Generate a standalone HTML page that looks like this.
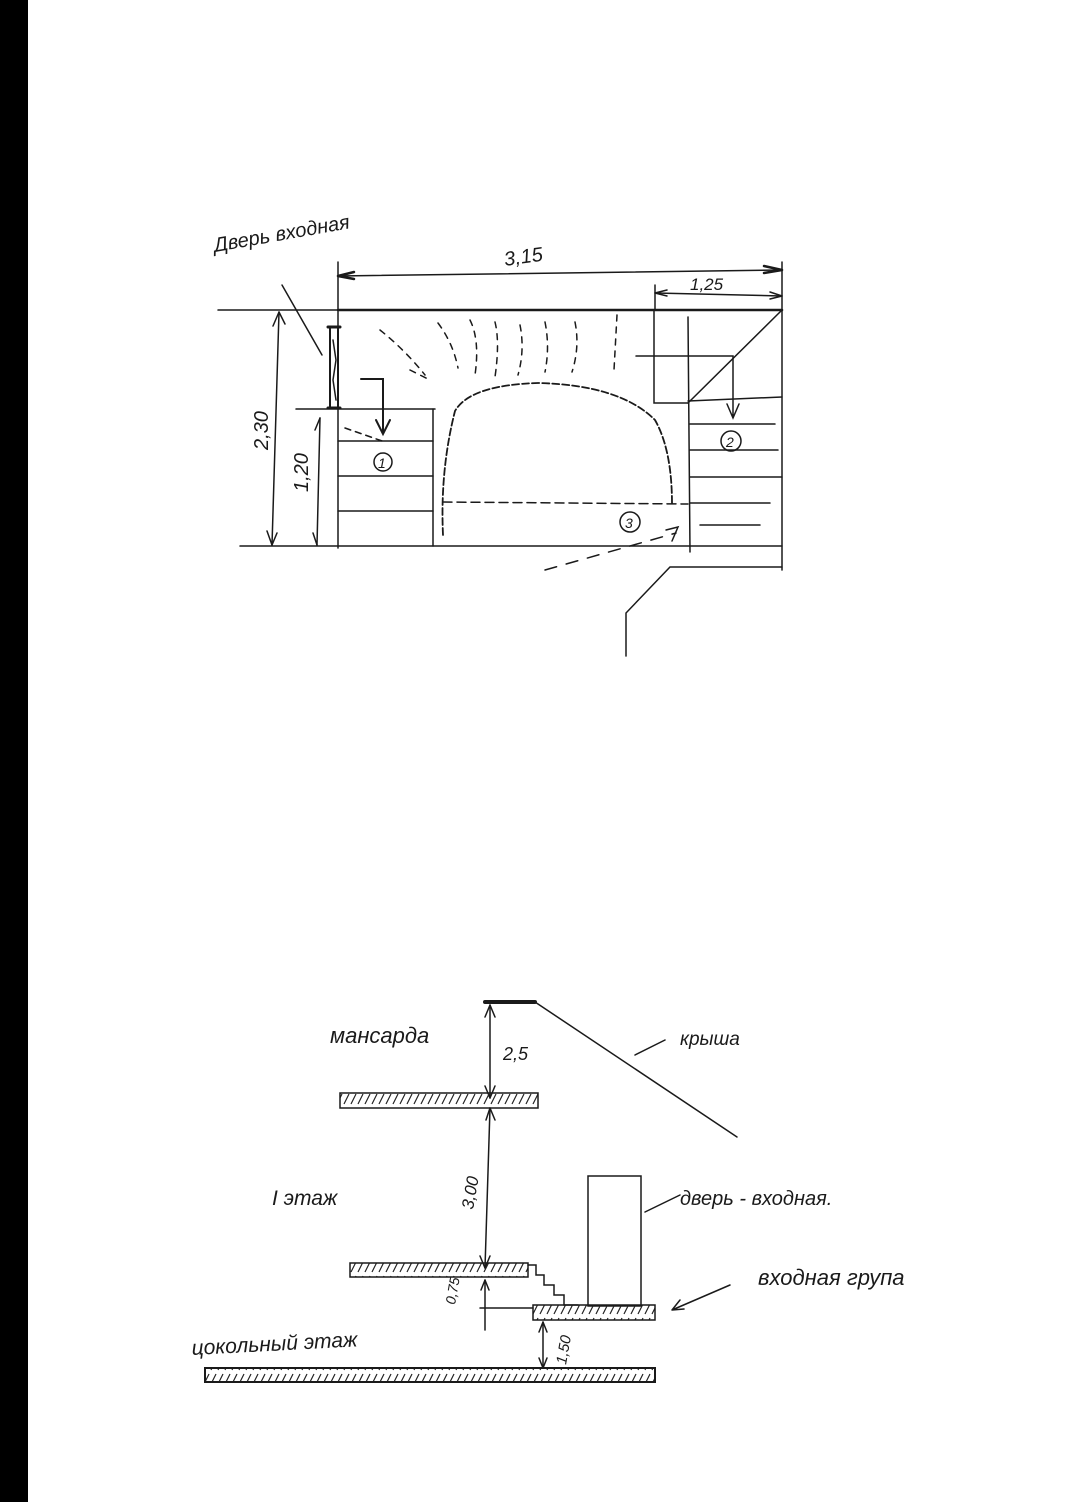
<!DOCTYPE html>
<html><head><meta charset="utf-8"><style>
html,body{margin:0;padding:0;background:#fff}
svg{display:block}
text{font-family:"Liberation Sans","DejaVu Sans",sans-serif;font-style:italic;fill:#1a1a1a}
</style></head><body>
<svg width="1080" height="1502" viewBox="0 0 1080 1502" xmlns="http://www.w3.org/2000/svg">
<defs>
<pattern id="h" width="7" height="14" patternUnits="userSpaceOnUse"><path d="M1 12 L6 2" stroke="#222" stroke-width="1.2"/></pattern>
</defs>
<rect x="0" y="0" width="28" height="1502" fill="#000"/>
<g stroke="#1a1a1a" stroke-width="1.5" fill="none" stroke-linecap="round">
<!-- top plan -->
<line x1="218" y1="310" x2="338" y2="310"/>
<line x1="338" y1="310" x2="782" y2="310" stroke-width="2.5"/>
<line x1="240" y1="546" x2="782" y2="546"/>
<line x1="338" y1="262" x2="338" y2="548"/>
<line x1="782" y1="262" x2="782" y2="570"/>
<line x1="338" y1="276" x2="782" y2="270"/>
<path d="M338 276 l16 -4 M338 276 l16 3 M782 270 l-18 -4 M782 270 l-18 3" stroke-width="2.5"/>
<line x1="655" y1="293" x2="782" y2="296"/>
<path d="M655 293 l12 -3 M655 293 l12 3 M782 296 l-12 -4 M782 296 l-12 3"/>
<line x1="655" y1="285" x2="655" y2="310"/>
<line x1="279" y1="312" x2="272" y2="545"/>
<path d="M279 312 l-6 14 M279 312 l6 12 M272 545 l-5 -14 M272 545 l5 -12"/>
<line x1="320" y1="418" x2="317" y2="545"/>
<path d="M320 418 l-5 12 M317 545 l-4 -12"/>
<line x1="282" y1="285" x2="322" y2="355"/>
<rect x="330" y="327" width="8" height="81" stroke-width="2"/>
<path d="M328 327 h12 M328 408 h12" stroke-width="3"/>
<path d="M333 340 l3 20 l-3 20 l3 20"/>
<line x1="296" y1="409" x2="435" y2="409"/>
<line x1="433" y1="409" x2="433" y2="546"/>
<line x1="338" y1="441" x2="433" y2="441"/>
<line x1="338" y1="476" x2="433" y2="476"/>
<line x1="338" y1="511" x2="433" y2="511"/>
<path d="M361 379 h22 v54 M376 420 l7 14 l7 -14" stroke-width="2"/>
<circle cx="383" cy="462" r="9"/>
<path d="M345 428 l40 14" stroke-dasharray="6 5"/>
<path d="M380 330 q25 20 45 45 M410 370 l20 10 M438 323 q15 20 20 45 M470 320 q10 20 5 55 M495 322 q5 20 0 55 M520 325 q5 25 -2 50 M545 322 q5 25 0 50 M575 322 q5 25 -3 50 M617 315 l-3 55" stroke-dasharray="6 6"/>
<path d="M443 535 Q440 470 455 411 Q470 385 538 383 Q620 385 655 420 Q672 450 672 504" stroke-dasharray="7 3" stroke-width="1.8"/>
<path d="M443 502 L688 504" stroke-dasharray="9 5"/>
<path d="M654 310 V403 H688"/>
<line x1="688" y1="317" x2="690" y2="552"/>
<line x1="782" y1="310" x2="688" y2="403"/>
<path d="M636 356 H733 V418 M727 404 l6 14 l6 -14"/>
<line x1="688" y1="401" x2="782" y2="397"/>
<line x1="690" y1="424" x2="775" y2="424"/>
<line x1="690" y1="450" x2="778" y2="450"/>
<line x1="690" y1="477" x2="782" y2="477"/>
<line x1="690" y1="503" x2="770" y2="503"/>
<line x1="700" y1="525" x2="760" y2="525"/>
<circle cx="731" cy="441" r="10"/>
<circle cx="630" cy="522" r="10"/>
<path d="M545 570 L676 533" stroke-dasharray="12 10"/>
<path d="M666 530 l12 -3 l-6 14"/>
<path d="M782 567 H670 L626 613 V656"/>
<!-- section -->
<path d="M485 1002 h50" stroke-width="4"/>
<line x1="535" y1="1002" x2="737" y2="1137"/>
<line x1="635" y1="1055" x2="665" y2="1040"/>
<line x1="490" y1="1005" x2="490" y2="1098"/>
<path d="M490 1005 l-5 12 M490 1005 l5 12 M490 1098 l-5 -12 M490 1098 l5 -12"/>
<rect x="340" y="1093" width="198" height="15" fill="url(#h)"/>
<line x1="490" y1="1108" x2="485" y2="1268"/>
<path d="M490 1108 l-4 12 M490 1108 l5 12 M485 1268 l-5 -12 M485 1268 l5 -12"/>
<rect x="350" y="1263" width="178" height="14" fill="url(#h)"/>
<path d="M528 1265 h8 v10 h8 v10 h10 v10 h10 v10 h14"/>
<rect x="588" y="1176" width="53" height="130"/>
<line x1="645" y1="1212" x2="680" y2="1195"/>
<path d="M730 1285 L672 1310 M672 1310 l8 -10 M672 1310 l12 -1"/>
<rect x="533" y="1305" width="122" height="15" fill="url(#h)"/>
<line x1="485" y1="1280" x2="485" y2="1330"/>
<path d="M485 1280 l-4 10 M485 1280 l4 10"/>
<line x1="480" y1="1308" x2="533" y2="1308"/>
<line x1="543" y1="1322" x2="543" y2="1368"/>
<path d="M543 1322 l-4 10 M543 1322 l4 10 M543 1368 l-4 -10 M543 1368 l4 -10"/>
<rect x="205" y="1368" width="450" height="14" fill="url(#h)" stroke-width="2"/>
</g>
<g font-size="20">
<text x="215" y="252" transform="rotate(-10 215 252)">Дверь входная</text>
<text x="505" y="266" font-size="20" transform="rotate(-8 505 266)">3,15</text>
<text x="690" y="290" font-size="17">1,25</text>
<text x="0" y="0" font-size="20" transform="translate(268 450) rotate(-90)">2,30</text>
<text x="0" y="0" font-size="20" transform="translate(308 492) rotate(-90)">1,20</text>
<text x="378" y="468" font-size="14">1</text>
<text x="726" y="447" font-size="14">2</text>
<text x="625" y="528" font-size="14">3</text>
<text x="330" y="1043" font-size="22">мансарда</text>
<text x="680" y="1045" font-size="19">крыша</text>
<text x="503" y="1060" font-size="18">2,5</text>
<text x="0" y="0" font-size="17" transform="translate(473 1210) rotate(-80)">3,00</text>
<text x="272" y="1205" font-size="21">I этаж</text>
<text x="680" y="1205" font-size="20">дверь - входная.</text>
<text x="758" y="1285" font-size="22">входная група</text>
<text x="0" y="0" font-size="14" transform="translate(455 1305) rotate(-80)">0,75</text>
<text x="0" y="0" font-size="15" transform="translate(566 1365) rotate(-80)">1,50</text>
<text x="192" y="1355" font-size="21" transform="rotate(-3 192 1355)">цокольный этаж</text>
</g>
</svg>
</body></html>
